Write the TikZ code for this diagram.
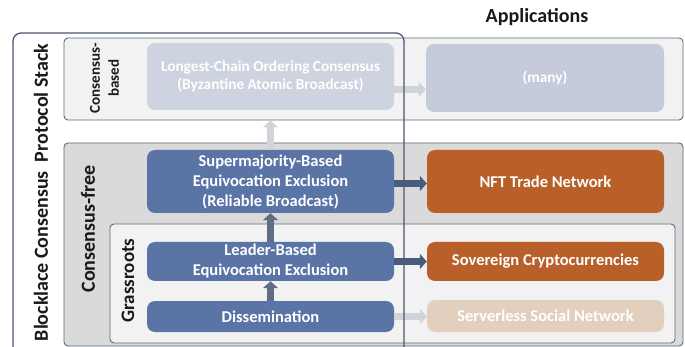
\documentclass[tikz,border=0pt]{standalone}
\usepackage{fontspec}
\setmainfont{Carlito}
\usetikzlibrary{arrows.meta}
\definecolor{bandlight}{HTML}{F2F2F2}
\definecolor{banddark}{HTML}{DADADA}
\definecolor{edgecol}{HTML}{5D6A7E}
\definecolor{framecol}{HTML}{4B5870}
\definecolor{nodeblue}{HTML}{5A74A6}
\definecolor{nodeorange}{HTML}{B85F2A}
\definecolor{paleblue}{HTML}{CDD3DF}
\definecolor{paleblueb}{HTML}{C5CBDA}
\definecolor{paleorange}{HTML}{E3CFBD}
\definecolor{arrowdark}{HTML}{5F6D85}
\definecolor{arrowlight}{HTML}{D0D4D9}
\definecolor{arrownavy}{HTML}{4A5C7E}
\definecolor{labelcol}{HTML}{1A1A1A}
\begin{document}
\begin{tikzpicture}[x=1pt,y=-1pt,
  band/.style={draw=edgecol, line width=0.9pt, rounded corners=4pt, inner sep=0pt},
  box/.style={rounded corners=8pt, text=white, align=center, inner sep=0pt,
    font=\bfseries\fontsize{16.5}{20}\selectfont},
  palebox/.style={box, font=\bfseries\fontsize{15.3}{18}\selectfont},
  blockarrow/.style={line width=6.5pt, -{Triangle[length=7pt,width=15pt]}},
  sidelabel/.style={rotate=90, text=labelcol, font=\bfseries\fontsize{20}{24}\selectfont, inner sep=0pt, align=center}
]
\clip (0,0) rectangle (685,347);
\fill[white] (0,0) rectangle (685,347);

% bands
\node[band, fill=bandlight, minimum width=619pt, minimum height=82pt] (cb) at (373.5,79) {};
\node[band, fill=banddark, minimum width=619pt, minimum height=203pt] (cf) at (373.5,244.5) {};
\node[band, fill=bandlight, minimum width=565pt, minimum height=119pt] (gr) at (392.5,283.5) {};

% nodes
\node[palebox, fill=paleblue, minimum width=247pt, minimum height=67pt] (lc) at (270.5,76.5)
  {Longest-Chain Ordering Consensus\\(Byzantine Atomic Broadcast)};
\node[palebox, fill=paleblueb, minimum width=238pt, minimum height=68pt] (many) at (545,78)
  {(many)};
\node[box, fill=nodeblue, minimum width=247pt, minimum height=63pt] (sm) at (270.5,181.5)
  {Supermajority-Based\\Equivocation Exclusion\\(Reliable Broadcast)};
\node[box, fill=nodeorange, minimum width=237pt, minimum height=63pt] (nft) at (545.5,181.5)
  {NFT Trade Network};
\node[box, fill=nodeblue, minimum width=247pt, minimum height=39pt] (lb) at (270.5,261.5)
  {Leader-Based\\Equivocation Exclusion};
\node[box, fill=nodeorange, minimum width=237pt, minimum height=39pt] (sov) at (545.5,261.5)
  {Sovereign Cryptocurrencies};
\node[box, fill=nodeblue, minimum width=247pt, minimum height=31pt] (dis) at (270.5,316.5)
  {Dissemination};
\node[box, fill=paleorange, minimum width=237pt, minimum height=32pt] (ssn) at (545.5,316)
  {Serverless Social Network};

% arrows
\draw[blockarrow, arrowlight] (sm.north) -- (sm.north |- cb.south);
\draw[blockarrow, arrowdark] (lb.north) -- (sm.south);
\draw[blockarrow, arrowdark] (dis.north) -- (lb.south);
\draw[blockarrow, arrowlight] ([yshift=-13pt]lc.east) -- ([yshift=-13pt]lc.east -| many.west);
\draw[blockarrow, arrownavy] ([yshift=-2pt]sm.east) -- ([yshift=-2pt]sm.east -| nft.west);
\draw[blockarrow, arrownavy] (lb.east) -- (sov.west);
\draw[blockarrow, arrowlight] (dis.east) -- (dis.east -| ssn.west);

% labels
\node[text=labelcol, font=\bfseries\fontsize{20}{24}\selectfont, inner sep=0pt] (apps) at (537,17) {Applications};
\node[sidelabel] (stack) at (41,192.5) {Blocklace Consensus\ \ Protocol Stack};
\node[sidelabel] (cflabel) at (88,229) {Consensus-free};
\node[sidelabel, font=\bfseries\fontsize{19}{23}\selectfont] (grlabel) at (128,280.5) {Grassroots};
\node[sidelabel, font=\bfseries\fontsize{15}{19}\selectfont] (cblabel) at (104.5,78) {Consensus-\\based};

% outer frame
\draw[framecol, line width=1.3pt, rounded corners=8pt] (13,33) rectangle (404,370);
\end{tikzpicture}
\end{document}
